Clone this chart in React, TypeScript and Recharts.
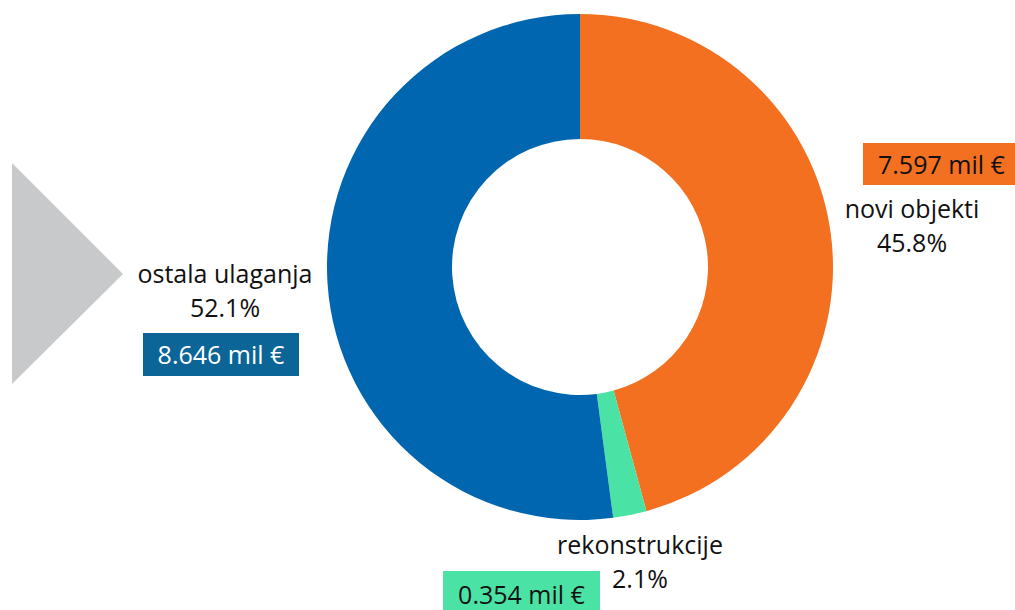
import { PieChart, Pie, Cell } from "recharts"

const categories = ["novi objekti", "rekonstrukcije", "ostala ulaganja"]
const valuesMil = [7.597, 0.354, 8.646]
const percentLabels = ["45.8%", "2.1%", "52.1%"]
const amountLabels = ["7.597 mil €", "0.354 mil €", "8.646 mil €"]
const colors = ["#F37021", "#4BE3A5", "#0066B0"]

const data = categories.map((name, i) => ({ name, value: valuesMil[i] }))

const font = "'Open Sans', 'Noto Sans', sans-serif"

const textStyle: React.CSSProperties = {
  position: "absolute",
  fontFamily: font,
  fontSize: 25,
  color: "#111",
  textAlign: "center",
  whiteSpace: "nowrap",
  lineHeight: "34px",
}

export default function App() {
  return (
    <div style={{ position: "absolute", left: 0, top: 0, width: 1015, height: 610, background: "#fff", overflow: "hidden" }}>
      <svg width={1015} height={610} style={{ position: "absolute", left: 0, top: 0 }}>
        <polygon points="12,163 123,274 12,384" fill="#C8C9CA" />
      </svg>
      <div style={{ position: "absolute", left: 0, top: 0 }}>
        <PieChart width={1015} height={610} margin={{ top: 0, right: 0, bottom: 0, left: 0 }}>
          <Pie
            data={data}
            dataKey="value"
            cx={580}
            cy={267}
            innerRadius={128}
            outerRadius={253}
            startAngle={90}
            endAngle={-270}
            stroke="none"
            isAnimationActive={false}
          >
            {data.map((d, i) => (
              <Cell key={d.name} fill={colors[i]} />
            ))}
          </Pie>
        </PieChart>
      </div>

      {/* novi objekti */}
      <div style={{ ...textStyle, left: 863, top: 143, width: 160, height: 42, lineHeight: "42px", background: colors[0], textAlign: "left", paddingLeft: 15 }}>
        {amountLabels[0]}
      </div>
      <div style={{ ...textStyle, left: 826, top: 191, width: 172 }}>
        {categories[0]}
        <br />
        {percentLabels[0]}
      </div>

      {/* ostala ulaganja */}
      <div style={{ ...textStyle, left: 115, top: 256, width: 220 }}>
        {categories[2]}
        <br />
        {percentLabels[2]}
      </div>
      <div style={{ ...textStyle, left: 143, top: 333, width: 156, height: 43, lineHeight: "43px", background: "#0B6596", color: "#fff" }}>
        {amountLabels[2]}
      </div>

      {/* rekonstrukcije */}
      <div style={{ ...textStyle, left: 530, top: 527, width: 220 }}>
        {categories[1]}
        <br />
        {percentLabels[1]}
      </div>
      <div style={{ ...textStyle, left: 443, top: 571, width: 157, height: 45, lineHeight: "46px", background: colors[1] }}>
        {amountLabels[1]}
      </div>
    </div>
  )
}
